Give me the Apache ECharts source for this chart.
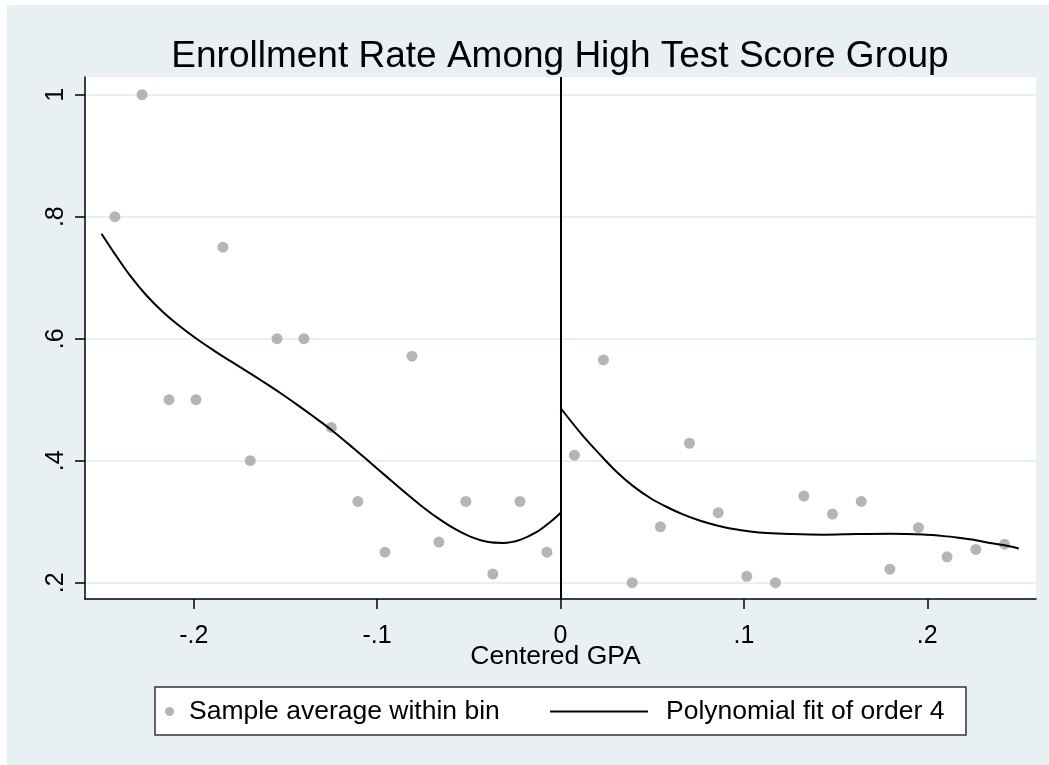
<!DOCTYPE html>
<html>
<head>
<meta charset="utf-8">
<script src="https://cdn.jsdelivr.net/npm/echarts@6/dist/echarts.min.js"></script>
<style>
  html, body { margin: 0; padding: 0; background: #ffffff; }
  #chart { width: 1049px; height: 765px; }
</style>
</head>
<body>
<div id="chart"></div>
<script>
// ---- Data ----
const titleText = 'Enrollment Rate Among High Test Score Group';
const xAxisName = 'Centered GPA';
const scatterName = 'Sample average within bin';
const fitName = 'Polynomial fit of order 4';

const xTicks = [-0.2, -0.1, 0, 0.1, 0.2];
const xTickLabels = ['-.2', '-.1', '0', '.1', '.2'];
const yTicks = [0.2, 0.4, 0.6, 0.8, 1.0];
const yTickLabels = ['.2', '.4', '.6', '.8', '1'];

// bin averages, left of cutoff
const leftBinX = [-0.2430, -0.2282, -0.2135, -0.1988, -0.1841, -0.1692, -0.1546, -0.1399, -0.1250,
                  -0.1105, -0.0957, -0.0810, -0.0663, -0.0516, -0.0369, -0.0221, -0.0074];
const leftBinY = [0.8000, 1.0000, 0.5000, 0.5000, 0.7500, 0.4000, 0.6000, 0.6000, 0.4545,
                  0.3333, 0.2500, 0.5714, 0.2667, 0.3333, 0.2143, 0.3333, 0.2500];
// bin averages, right of cutoff
const rightBinX = [0.0076, 0.0234, 0.0391, 0.0545, 0.0703, 0.0860, 0.1016, 0.1172,
                   0.1327, 0.1483, 0.1640, 0.1796, 0.1952, 0.2108, 0.2265, 0.2421];
const rightBinY = [0.4091, 0.5652, 0.2000, 0.2917, 0.4286, 0.3148, 0.2105, 0.2000,
                   0.3421, 0.3125, 0.3333, 0.2222, 0.2903, 0.2424, 0.2545, 0.2632];

// polynomial fit curve
const leftFitX = [-0.2503, -0.2437, -0.2346, -0.2255, -0.2165, -0.2074, -0.1983, -0.1892, -0.1801,
                  -0.1710, -0.1619, -0.1528, -0.1437, -0.1347, -0.1256, -0.1129, -0.1038, -0.0947,
                  -0.0856, -0.0765, -0.0674, -0.0583, -0.0492, -0.0401, -0.0311, -0.0220, -0.0129,
                  -0.0056, 0.0000];
const leftFitY = [0.7720, 0.7420, 0.7030, 0.6700, 0.6430, 0.6200, 0.5995, 0.5810, 0.5635,
                  0.5465, 0.5290, 0.5110, 0.4920, 0.4725, 0.4520, 0.4205, 0.3970, 0.3735,
                  0.3500, 0.3275, 0.3070, 0.2893, 0.2755, 0.2671, 0.2652, 0.2703, 0.2832,
                  0.2995, 0.3143];
const rightFitX = [0.0000, 0.0125, 0.0216, 0.0307, 0.0398, 0.0489, 0.0580, 0.0671, 0.0762,
                   0.0853, 0.0943, 0.1034, 0.1125, 0.1252, 0.1434, 0.1616, 0.1798, 0.1979,
                   0.2070, 0.2161, 0.2252, 0.2343, 0.2434, 0.2499];
const rightFitY = [0.4864, 0.4398, 0.4098, 0.3815, 0.3579, 0.3389, 0.3241, 0.3115, 0.3016,
                   0.2939, 0.2880, 0.2841, 0.2815, 0.2798, 0.2787, 0.2798, 0.2803, 0.2792,
                   0.2770, 0.2743, 0.2705, 0.2651, 0.2607, 0.2562];

const cutoff = [0];

// ---- Build ----
const zip = (xs, ys) => xs.map((x, i) => [x, ys[i]]);
const FONT = "'Liberation Sans', Arial, Helvetica, sans-serif";
const BG = '#e9f0f3';
const DOT = '#a2a2a2';

const chart = echarts.init(document.getElementById('chart'), null, { renderer: 'canvas' });

const option = {
  animation: false,
  backgroundColor: '#ffffff',
  textStyle: { fontFamily: FONT, color: '#000' },
  title: {
    text: titleText,
    left: 560,
    top: 38,
    padding: 0,
    textAlign: 'center',
    textStyle: { fontFamily: FONT, fontSize: 37, fontWeight: 'normal', color: '#000' }
  },
  graphic: [
    { type: 'rect', z: -10, silent: true,
      shape: { x: 7, y: 5, width: 1042, height: 760 },
      style: { fill: BG } },
    { type: 'rect', z: -9, silent: true,
      shape: { x: 85, y: 77, width: 951, height: 522 },
      style: { fill: '#ffffff' } },
    { type: 'rect', z: -5, silent: true,
      shape: { x: 155, y: 687, width: 811, height: 48 },
      style: { fill: '#ffffff', stroke: '#333333', lineWidth: 1.5 } }
  ],
  legend: [
    {
      data: [scatterName],
      left: 165, top: 698, padding: 0,
      itemWidth: 9, itemHeight: 9,
      selectedMode: false,
      icon: 'circle',
      textStyle: { fontFamily: FONT, fontSize: 26.5, color: '#000', padding: [0, 0, 0, 10] }
    },
    {
      data: [fitName],
      left: 550, top: 698, padding: 0,
      itemWidth: 98, itemHeight: 2,
      selectedMode: false,
      icon: 'rect',
      textStyle: { fontFamily: FONT, fontSize: 26.5, color: '#000', padding: [0, 0, 0, 13] }
    }
  ],
  grid: { left: 85, right: 13, top: 77, bottom: 166, containLabel: false },
  xAxis: {
    type: 'value',
    min: -0.2593, max: 0.2593,
    name: xAxisName,
    nameLocation: 'middle',
    nameGap: 44,
    nameMoveOverlap: false,
    nameTextStyle: { fontFamily: FONT, fontSize: 26.5, color: '#000', padding: [0, 10, 0, 0] },
    axisLine: { show: true, onZero: false, lineStyle: { color: '#000', width: 1.5 } },
    axisTick: { show: true, inside: false, length: 10, lineStyle: { color: '#000', width: 1.5 },
                customValues: xTicks },
    axisLabel: { show: true, margin: 25, fontFamily: FONT, fontSize: 25, color: '#000',
                 customValues: xTicks,
                 formatter: v => xTickLabels[xTicks.findIndex(t => Math.abs(t - v) < 1e-9)] },
    splitLine: { show: false }
  },
  yAxis: {
    type: 'value',
    min: 0.1733, max: 1.029,
    axisLine: { show: true, onZero: false, lineStyle: { color: '#000', width: 1.5 } },
    axisTick: { show: true, inside: false, length: 10, lineStyle: { color: '#000', width: 1.5 },
                customValues: yTicks },
    axisLabel: { show: true, rotate: 90, margin: 16, fontFamily: FONT, fontSize: 25, color: '#000',
                 customValues: yTicks,
                 formatter: v => yTickLabels[yTicks.findIndex(t => Math.abs(t - v) < 1e-9)] },
    splitLine: { show: true, lineStyle: { color: BG, width: 2 } }
  },
  series: [
    {
      name: scatterName,
      type: 'scatter',
      data: zip(leftBinX, leftBinY).concat(zip(rightBinX, rightBinY)),
      symbol: 'circle',
      symbolSize: 11,
      itemStyle: { color: DOT },
      z: 3,
      markLine: {
        silent: true,
        symbol: ['none', 'none'],
        label: { show: false },
        lineStyle: { color: '#000', width: 2, type: 'solid' },
        data: cutoff.map(c => ({ xAxis: c })),
        animation: false
      }
    },
    {
      name: fitName,
      type: 'line',
      data: zip(leftFitX, leftFitY),
      symbol: 'none',
      smooth: 0.35,
      lineStyle: { color: '#000', width: 2 },
      itemStyle: { color: '#000' },
      z: 4
    },
    {
      name: fitName,
      type: 'line',
      data: zip(rightFitX, rightFitY),
      symbol: 'none',
      smooth: 0.35,
      lineStyle: { color: '#000', width: 2 },
      itemStyle: { color: '#000' },
      z: 4
    }
  ]
};
chart.setOption(option);
</script>
</body>
</html>
